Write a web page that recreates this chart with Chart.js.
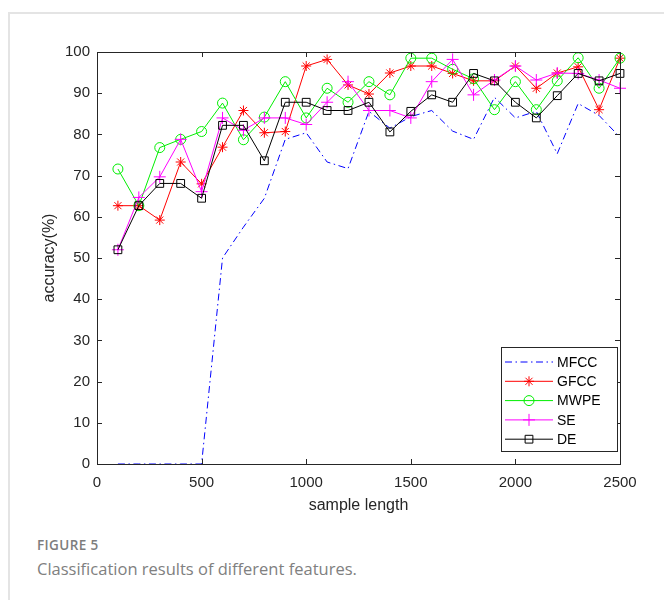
<!DOCTYPE html>
<html>
<head>
<meta charset="utf-8">
<script src="https://cdn.jsdelivr.net/npm/chart.js@4.4.0/dist/chart.umd.min.js"></script>
<style>
  body { margin: 0; background: #fff; width: 664px; height: 600px; overflow: hidden; position: relative; }
  .frame { position: absolute; left: 8px; top: 12px; right: 0; bottom: 0; border-top: 2px solid #e4e4e4; border-left: 2px solid #e4e4e4; }
  #wrap { position: absolute; left: 0; top: 0; width: 664px; height: 530px; }
  .fig { position: absolute; left: 37px; top: 536px; font-family: "Open Sans", sans-serif; font-size: 13.5px; font-weight: 600; color: #7d7d7d; letter-spacing: 0.4px; }
  .cap { position: absolute; left: 37px; top: 557px; font-family: "Open Sans", sans-serif; font-size: 16.5px; color: #808080; }
</style>
</head>
<body>
<div class="frame"></div>
<div id="wrap"><canvas id="chart"></canvas></div>
<div class="fig">FIGURE 5</div>
<div class="cap">Classification results of different features.</div>
<script>
const sampleLengths = [100, 200, 300, 400, 500, 600, 700, 800, 900, 1000, 1100, 1200, 1300,
  1400, 1500, 1600, 1700, 1800, 1900, 2000, 2100, 2200, 2300, 2400, 2500];

const mfcc = [0, 0, 0, 0, 0, 50, 57.5, 64.5, 78.8, 80.4, 73.3, 71.7, 85.6, 81.5, 84.3, 85.8,
  80.8, 78.8, 89, 84, 85.6, 75.3, 87.5, 84.6, 79.3];
const gfcc = [62.7, 62.7, 59.2, 73.3, 68, 76.9, 85.8, 80.4, 80.7, 96.6, 98.2, 92, 89.8, 94.9,
  96.6, 96.6, 94.8, 93, 93, 96.6, 91.2, 94.9, 96.4, 86, 98.5];
const mwpe = [71.6, 62.7, 76.8, 78.8, 80.7, 87.6, 78.7, 84.2, 92.8, 84, 91.2, 87.8, 92.8, 89.6,
  98.5, 98.5, 95.8, 93.5, 86, 92.8, 86, 93, 98.6, 91.2, 98.5];
const se = [52, 64.7, 69.7, 78.8, 66.1, 84, 81, 84, 84, 82.4, 87.8, 92.8, 85.8, 85.8, 84, 92.8,
  98.2, 89.6, 93.2, 96.6, 93.2, 94.9, 94.8, 93.2, 91.2];
const de = [52, 62.7, 68.1, 68.1, 64.5, 82.2, 82.2, 73.6, 87.8, 87.8, 85.8, 85.8, 87.8, 80.6,
  85.6, 89.6, 87.8, 94.8, 93, 87.8, 84, 89.4, 94.8, 93, 94.8];

const seriesNames = ['MFCC', 'GFCC', 'MWPE', 'SE', 'DE'];
const xTicks = [0, 500, 1000, 1500, 2000, 2500];
const yTicks = [0, 10, 20, 30, 40, 50, 60, 70, 80, 90, 100];

const axisColor = '#262626';
const axisFont = 'Arial, "Liberation Sans", sans-serif';

Chart.defaults.font.family = axisFont;

function toPoints(values) {
  return values.map(function (v, i) {
    return { x: sampleLengths[i], y: v };
  });
}

function makeSet(name, values, color, style, radius, order, dash) {
  return {
    label: name,
    data: toPoints(values),
    borderColor: color,
    borderWidth: 1,
    borderDash: dash || [],
    pointStyle: style,
    pointRadius: style ? radius : 0,
    pointBorderColor: color,
    pointBackgroundColor: 'rgba(0,0,0,0)',
    pointBorderWidth: 1,
    tension: 0,
    clip: false,
    order: order
  };
}

// box with inward ticks, MATLAB style
const boxPlugin = {
  id: 'box',
  afterDatasetsDraw(chart) {
    const ctx = chart.ctx;
    const a = chart.chartArea;
    const xs = chart.scales.x;
    const ys = chart.scales.y;
    const len = 5;
    ctx.save();
    ctx.strokeStyle = axisColor;
    ctx.lineWidth = 1;
    ctx.setLineDash([]);
    ctx.strokeRect(a.left + 0.5, a.top + 0.5, a.right - a.left, a.bottom - a.top);
    ctx.beginPath();
    xTicks.forEach(function (t) {
      const px = Math.round(xs.getPixelForValue(t)) + 0.5;
      ctx.moveTo(px, a.bottom);
      ctx.lineTo(px, a.bottom - len);
      ctx.moveTo(px, a.top);
      ctx.lineTo(px, a.top + len);
    });
    yTicks.forEach(function (t) {
      const py = Math.round(ys.getPixelForValue(t)) + 0.5;
      ctx.moveTo(a.left, py);
      ctx.lineTo(a.left + len, py);
      ctx.moveTo(a.right, py);
      ctx.lineTo(a.right - len, py);
    });
    ctx.stroke();
    ctx.restore();
  }
};

// legend box inside the lower right corner
const legendPlugin = {
  id: 'boxLegend',
  afterDraw(chart) {
    const ctx = chart.ctx;
    const a = chart.chartArea;
    const right = a.right - 3;
    const bottom = a.bottom - 13;
    const w = 116, h = 104;
    const left = right - w, top = bottom - h;
    ctx.save();
    ctx.fillStyle = '#fff';
    ctx.fillRect(left, top, w, h);
    ctx.strokeStyle = axisColor;
    ctx.lineWidth = 1;
    ctx.strokeRect(Math.round(left) + 0.5, Math.round(top) + 0.5, w, h);
    ctx.font = '14px ' + axisFont;
    ctx.textBaseline = 'middle';
    seriesNames.forEach(function (name, i) {
      const ds = chart.data.datasets.find(function (d) { return d.label === name; });
      const y = top + 15 + i * 19.3;
      const x0 = left + 4, x1 = left + 52;
      ctx.strokeStyle = ds.borderColor;
      ctx.lineWidth = 1;
      ctx.setLineDash(ds.borderDash);
      ctx.beginPath();
      ctx.moveTo(x0, y);
      ctx.lineTo(x1, y);
      ctx.stroke();
      ctx.setLineDash([]);
      if (ds.pointStyle) {
        ctx.fillStyle = 'rgba(0,0,0,0)';
        Chart.helpers.drawPoint(ctx, {
          pointStyle: ds.pointStyle, radius: ds.pointRadius, rotation: 0, borderWidth: 1
        }, (x0 + x1) / 2, y);
      }
      ctx.fillStyle = '#000';
      ctx.fillText(name, x1 + 4, y + 1);
    });
    ctx.restore();
  }
};

const canvas = document.getElementById('chart');
canvas.width = 664;
canvas.height = 530;

new Chart(canvas, {
  type: 'line',
  data: {
    datasets: [
      makeSet('MFCC', mfcc, '#0000ff', false, 0, 5, [7, 3.5, 1.5, 3.5]),
      makeSet('GFCC', gfcc, '#ff0000', 'star', 5, 4),
      makeSet('MWPE', mwpe, '#00ee00', 'circle', 5, 3),
      makeSet('SE', se, '#ff00ff', 'cross', 6, 2),
      makeSet('DE', de, '#000000', 'rect', 5.5, 1)
    ]
  },
  options: {
    responsive: false,
    animation: false,
    layout: { padding: { left: 0, top: 52, right: 44, bottom: 0 } },
    scales: {
      x: {
        type: 'linear',
        min: 0,
        max: 2500,
        afterFit: function (scale) { scale.height = 66; },
        afterBuildTicks: function (scale) {
          scale.ticks = xTicks.map(function (v) { return { value: v }; });
        },
        grid: { display: false, drawTicks: false },
        border: { display: false },
        ticks: {
          color: axisColor,
          padding: 10,
          maxRotation: 0,
          font: { size: 15 },
          callback: function (v) { return String(v); }
        },
        title: {
          display: true,
          text: 'sample length',
          color: axisColor,
          padding: { top: 0, bottom: 15 },
          font: { size: 16 }
        }
      },
      y: {
        min: 0,
        max: 100,
        afterFit: function (scale) { scale.width = 97; },
        afterBuildTicks: function (scale) {
          scale.ticks = yTicks.map(function (v) { return { value: v }; });
        },
        grid: { display: false, drawTicks: false },
        border: { display: false },
        ticks: {
          color: axisColor,
          padding: 7,
          font: { size: 15 },
          callback: function (v) { return String(v); }
        },
        title: {
          display: true,
          text: 'accuracy(%)',
          color: axisColor,
          padding: { top: 40, bottom: 0 },
          font: { size: 16 }
        }
      }
    },
    plugins: {
      legend: { display: false },
      tooltip: { enabled: false }
    }
  },
  plugins: [boxPlugin, legendPlugin]
});
</script>
</body>
</html>
